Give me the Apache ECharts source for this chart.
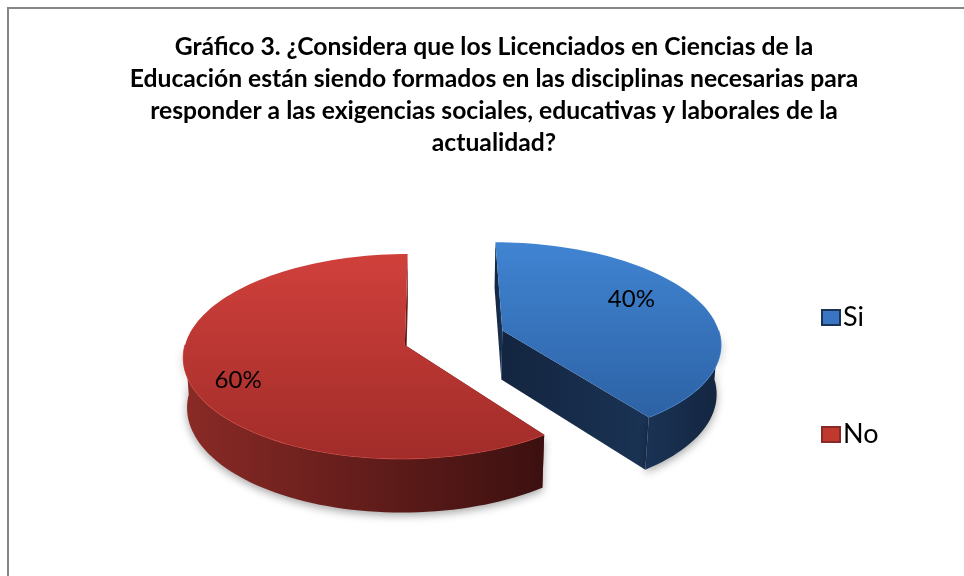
<!DOCTYPE html>
<html>
<head>
<meta charset="utf-8">
<script src="https://cdn.jsdelivr.net/npm/echarts@6/dist/echarts.min.js"></script>
<style>
  html, body { margin: 0; padding: 0; background: #fff; }
  #chart { width: 964px; height: 576px; }
</style>
</head>
<body>
<div id="chart"></div>
<script>
// ---------- data ----------
const categories = ['Si', 'No'];
const shares = [40, 60];
const shareLabels = ['40%', '60%'];
const titleText = 'Gráfico 3. ¿Considera que los Licenciados en Ciencias de la\n' +
  'Educación están siendo formados en las disciplinas necesarias para\n' +
  'responder a las exigencias sociales, educativas y laborales de la\n' +
  'actualidad?';

// ---------- look of the 3D pie ----------
const sliceStyle = [
  { base: '#3a75c4', topA: '#4084d2', topB: '#2d62a5', wallA: '#1a3354', wallB: '#132540', rim: '#5a95dc' },
  { base: '#c0392f', topA: '#d0403b', topB: '#a12c29', wallA: '#8a2a26', wallB: '#3c1010', rim: '#d9554e' }
];
const labelSpot = [[62.5, 0.71], [245, 0.8]];   // angle (deg), radius fraction on the slice top
const RAD = Math.PI / 180;
const SCALE = 218;             // px per pie radius
const ORIGIN = [454, 338.5];   // screen point of pie centre
const ALPHA = 27.3 * RAD;      // viewing elevation
const SIN_A = Math.sin(ALPHA), COS_A = Math.cos(ALPHA);
const D0 = 8.0;                // camera distance (perspective)
const CAM_X = -0.1;
const EXPLODE = 0.236;
const THICK = 0.26;
const X_RANGE = [-1.4, 1.4], Y_RANGE = [-1.1, 0.7];

// cumulative angles, clockwise from 12 o'clock
const total = shares.reduce((s, v) => s + v, 0);
let acc = 0;
const sliceAngles = shares.map(v => {
  const a1 = acc / total * 360;
  acc += v;
  return [a1, acc / total * 360];
});

function grad(x2, y2, c1, c2) {
  return new echarts.graphic.LinearGradient(0, 0, x2, y2, [
    { offset: 0, color: c1 }, { offset: 1, color: c2 }
  ]);
}

function renderSlice(params, api) {
  const i = params.seriesIndex;
  const st = sliceStyle[i];
  const a1 = api.value(0), a2 = api.value(1);
  const mid = (a1 + a2) / 2 * RAD;
  const ex = EXPLODE * Math.sin(mid), ez = -EXPLODE * Math.cos(mid);

  function project(X, Y, Z) {
    const depth = D0 - Y * SIN_A - Z * COS_A;
    const k = D0 / depth;
    return api.coord([CAM_X + (X - CAM_X) * k, (Y * COS_A - Z * SIN_A) * k]);
  }
  function pt(theta, r, y) {
    const t = theta * RAD;
    return project(ex + r * Math.sin(t), y, ez - r * Math.cos(t));
  }
  function arc(from, to, y) {
    const pts = [];
    const n = Math.max(2, Math.ceil(Math.abs(to - from) / 2));
    for (let j = 0; j <= n; j++) pts.push(pt(from + (to - from) * j / n, 1, y));
    return pts;
  }
  function face(a) {
    return {
      type: 'polygon',
      shape: { points: [pt(a, 0, 0), pt(a, 1, 0), pt(a, 1, -THICK), pt(a, 0, -THICK)] },
      style: { fill: grad(1, 0, st.wallB, st.wallA) }
    };
  }

  const children = [face(a1), face(a2)];
  const lo = Math.max(a1, 90), hi = Math.min(a2, 270);
  if (hi > lo) {
    const topEdge = arc(lo, hi, 0);
    children.push({
      type: 'polygon',
      shape: { points: topEdge.concat(arc(hi, lo, -THICK)) },
      style: {
        fill: grad(1, 0, st.wallA, st.wallB),
        shadowBlur: 8, shadowColor: 'rgba(0,0,0,0.35)', shadowOffsetY: 3
      }
    });
    children.push({
      type: 'polyline',
      shape: { points: topEdge },
      style: { stroke: st.rim, lineWidth: 1.2, fill: null }
    });
  }
  children.push({
    type: 'polygon',
    shape: { points: [pt(a1, 0, 0)].concat(arc(a1, a2, 0)) },
    style: { fill: grad(0, 1, st.topA, st.topB) }
  });
  const lp = pt(labelSpot[i][0], labelSpot[i][1], 0);
  children.push({
    type: 'text',
    x: lp[0], y: lp[1],
    style: {
      text: shareLabels[i], fill: '#000', fontSize: 24, fontFamily: 'Lato',
      align: 'center', verticalAlign: 'middle'
    }
  });
  return { type: 'group', children };
}

const chart = echarts.init(document.getElementById('chart'));
chart.setOption({
  animation: false,
  backgroundColor: '#fff',
  title: {
    text: titleText,
    left: 489, top: 26, textAlign: 'center',
    textStyle: { fontFamily: 'Lato', fontWeight: 'bold', fontSize: 24.7, lineHeight: 32, color: '#000' }
  },
  graphic: [{
    type: 'rect', z: -1,
    shape: { x: 8, y: 8, width: 1000, height: 1000 },
    style: { fill: null, stroke: '#868686', lineWidth: 2 }
  }],
  legend: {
    orient: 'vertical', left: 816, top: 299, itemGap: 90,
    itemWidth: 18, itemHeight: 15, icon: 'rect',
    textStyle: { fontFamily: 'Lato', fontSize: 27, lineHeight: 26, color: '#000', padding: [0, 0, 0, -2] },
    data: categories
  },
  grid: {
    left: ORIGIN[0] + X_RANGE[0] * SCALE,
    top: ORIGIN[1] - Y_RANGE[1] * SCALE,
    width: (X_RANGE[1] - X_RANGE[0]) * SCALE,
    height: (Y_RANGE[1] - Y_RANGE[0]) * SCALE
  },
  xAxis: { type: 'value', min: X_RANGE[0], max: X_RANGE[1], show: false },
  yAxis: { type: 'value', min: Y_RANGE[0], max: Y_RANGE[1], show: false },
  series: categories.map((name, i) => ({
    type: 'custom',
    name,
    coordinateSystem: 'cartesian2d',
    itemStyle: { color: sliceStyle[i].base, borderColor: sliceStyle[i].wallA, borderWidth: 1 },
    renderItem: renderSlice,
    encode: { x: -1, y: -1 },
    data: [{ name, value: sliceAngles[i] }]
  }))
});
</script>
</body>
</html>
